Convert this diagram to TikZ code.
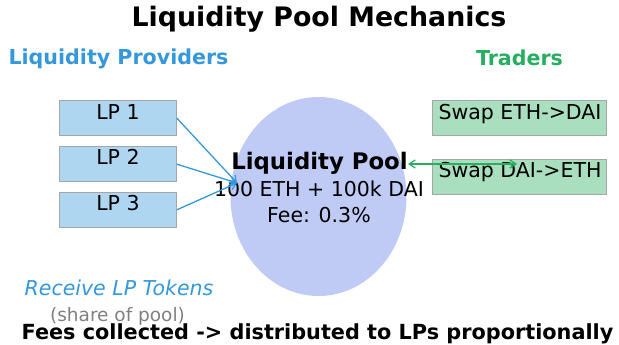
\documentclass[tikz,border=0pt]{standalone}
\usepackage{fontspec}
\setmainfont{DejaVu Sans}
\usepackage{tikz}
\usetikzlibrary{arrows.meta,positioning,shapes.geometric}

\definecolor{lpblue}{HTML}{3498DB}
\definecolor{lpfill}{HTML}{AED6F1}
\definecolor{trgreen}{HTML}{27AE60}
\definecolor{trfill}{HTML}{A9DFBF}
\definecolor{poolfill}{HTML}{C0CBF5}

\begin{document}
\begin{tikzpicture}[
    x=1pt, y=-1pt,
    >=Stealth,
    txt/.style={anchor=base, inner sep=0pt, font=\fontsize{20.5}{24}\selectfont},
    head/.style={txt, font=\fontsize{20.6}{24}\selectfont\bfseries},
    lpbox/.style={
        rectangle, draw=gray!70, fill=lpfill, line width=0.8pt,
        minimum width=117pt, minimum height=35pt, inner sep=0pt
    },
    swapbox/.style={
        rectangle, draw=gray!70, fill=trfill, line width=0.8pt,
        minimum width=174pt, minimum height=35pt, inner sep=0pt
    },
    deposit/.style={
        -{Straight Barb[length=6pt, width=8pt]}, color=lpblue, line width=1.3pt
    },
    trade/.style={
        {Straight Barb[length=6pt, width=8pt]}-{Straight Barb[length=6pt, width=8pt]},
        color=trgreen, line width=1.3pt
    },
]
\useasboundingbox (0,0) rectangle (619,345);

% ── Title ──
\node[head, font=\fontsize{26.8}{30}\selectfont\bfseries] (title) at (319,27) {Liquidity Pool Mechanics};

% ── Column headers ──
\node[head, text=lpblue] (provhead) at (118.5,65) {Liquidity Providers};
\node[head, text=trgreen] (tradhead) at (519.5,66) {Traders};

% ── Liquidity providers ──
\node[lpbox] (lp1) at (118,118.2) {};
\node[lpbox] (lp2) at (118,164.2) {};
\node[lpbox] (lp3) at (118,209.8) {};
\node[txt] (lp1txt) at (118,119) {LP 1};
\node[txt] (lp2txt) at (118,164) {LP 2};
\node[txt] (lp3txt) at (118,210) {LP 3};

% ── Pool ──
\node[ellipse, fill=poolfill, minimum width=176pt, minimum height=199pt, inner sep=0pt] (pool) at (318.5,196.5) {};
\node[head, font=\fontsize{22.8}{26}\selectfont\bfseries] (pooltitle) at (319.5,169) {Liquidity Pool};
\node[txt] (reserves) at (319,196.5) {100 ETH + 100k DAI};
\node[txt] (fee) at (319,222.5) {Fee: 0.3\%};

% ── Traders ──
\node[swapbox] (swap1) at (519.5,118) {};
\node[swapbox] (swap2) at (519.5,176.5) {};
\node[txt] (swap1txt) at (520,119) {Swap ETH->DAI};
\node[txt] (swap2txt) at (520,177) {Swap DAI->ETH};

% ── Flow arrows ──
\coordinate (poolin) at (237,183);
\coordinate (poolout) at (408,164);
\coordinate (swapin) at (517,164);
\draw[deposit] (lp1.east) -- (poolin);
\draw[deposit] (lp2.east) -- (poolin);
\draw[deposit] (lp3.east) -- (poolin);
\draw[trade] (poolout) -- (swapin);

% ── Notes ──
\node[txt, font=\fontsize{20.5}{24}\selectfont\itshape, text=lpblue] (receive) at (119,295) {Receive LP Tokens};
\node[txt, font=\fontsize{18.5}{22}\selectfont, text=gray] (share) at (117.5,321) {(share of pool)};
\node[head, font=\fontsize{20.8}{24}\selectfont\bfseries] (fees) at (317.5,339) {Fees collected -> distributed to LPs proportionally};

\end{tikzpicture}
\end{document}
